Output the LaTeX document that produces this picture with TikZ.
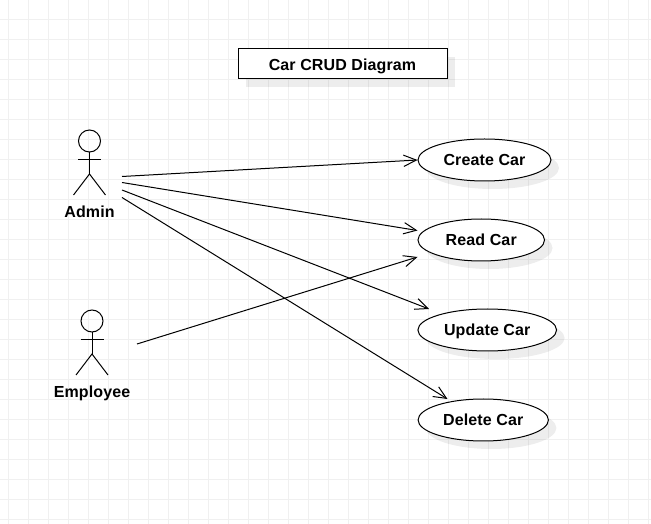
\documentclass[tikz,border=0pt]{standalone}
\usepackage{fontspec}
\setmainfont[LetterSpace=0.8]{Liberation Sans}
\usetikzlibrary{arrows.meta,shadows,shapes.geometric}

\definecolor{gridgray}{RGB}{240,240,240}
\tikzset{every picture/.style={line width=0.75pt}}
\tikzset{
	softshadow/.style={general shadow={shadow xshift=6pt,shadow yshift=-6pt,fill=black,opacity=0.07}},
	titlebox/.style={draw,fill=white,softshadow,minimum width=156.75pt,minimum height=22.5pt,inner sep=0pt,text height=11pt,text depth=1pt,font=\bfseries\fontsize{12pt}{14pt}\selectfont},
	usecase/.style={draw,ellipse,fill=white,softshadow,minimum height=31.5pt,inner sep=0pt,text height=9.7pt,text depth=1pt,font=\bfseries\fontsize{12pt}{14pt}\selectfont},
	actorlabel/.style={inner sep=0pt,text height=9.8pt,text depth=0pt,font=\bfseries\fontsize{12pt}{14pt}\selectfont},
	actorhead/.style={draw,circle,minimum size=16.5pt,inner sep=0pt},
	openarrow/.style={-{Straight Barb[length=9.5pt,width=8.5pt]}}
}

\begin{document}
\begin{tikzpicture}[x=0.75pt,y=0.75pt,yscale=-1,xscale=1]
	\useasboundingbox (0,0) rectangle (651,524);

	%Grid
	\foreach \gx in {8.5,28.5,...,648.5} \draw [gridgray] (\gx,0) -- (\gx,524);
	\foreach \gy in {19.5,39.5,...,519.5} \draw [gridgray] (0,\gy) -- (651,\gy);

	%Title
	\node [titlebox] (title) at (342.5,64) {Car CRUD Diagram};

	%Use cases
	\node [usecase,minimum width=99.75pt] (createCar) at (484.5,160) {Create Car};
	\node [usecase,minimum width=94.9pt] (readCar) at (481.25,240) {Read Car};
	\node [usecase,minimum width=104pt] (updateCar) at (487.25,330) {Update Car};
	\node [usecase,minimum width=97.75pt] (deleteCar) at (483.25,420) {Delete Car};

	%Actor Admin
	\node [actorhead] (adminHead) at (89.5,141) {};
	\coordinate (adminHip) at (89.5,174);
	\draw (adminHead) -- (adminHip);
	\draw (78,160) -- (101,160);
	\draw (73.5,195) -- (adminHip) -- (105.5,195);
	\node [actorlabel] (admin) at (89.5,211) {Admin};

	%Actor Employee
	\node [actorhead] (employeeHead) at (92,321) {};
	\coordinate (employeeHip) at (92,354);
	\draw (employeeHead) -- (employeeHip);
	\draw (80.5,340) -- (103.5,340);
	\draw (76,375) -- (employeeHip) -- (108,375);
	\node [actorlabel] (employee) at (92,391) {Employee};

	%Connector ends
	\coordinate (adminCreate) at (122,176.5);
	\coordinate (adminRead) at (122,182.5);
	\coordinate (adminUpdate) at (122,190);
	\coordinate (adminDelete) at (122,197.5);
	\coordinate (employeeRead) at (137,344);
	\coordinate (readTop) at (417.5,230.5);
	\coordinate (readBottom) at (417.5,257);
	\coordinate (updateTop) at (429,309);
	\coordinate (deleteTop) at (447.5,399);

	%Straight Lines
	\draw [openarrow] (adminCreate) -- (createCar.west);
	\draw [openarrow] (adminRead) -- (readTop);
	\draw [openarrow] (adminUpdate) -- (updateTop);
	\draw [openarrow] (adminDelete) -- (deleteTop);
	\draw [openarrow] (employeeRead) -- (readBottom);
\end{tikzpicture}
\end{document}
